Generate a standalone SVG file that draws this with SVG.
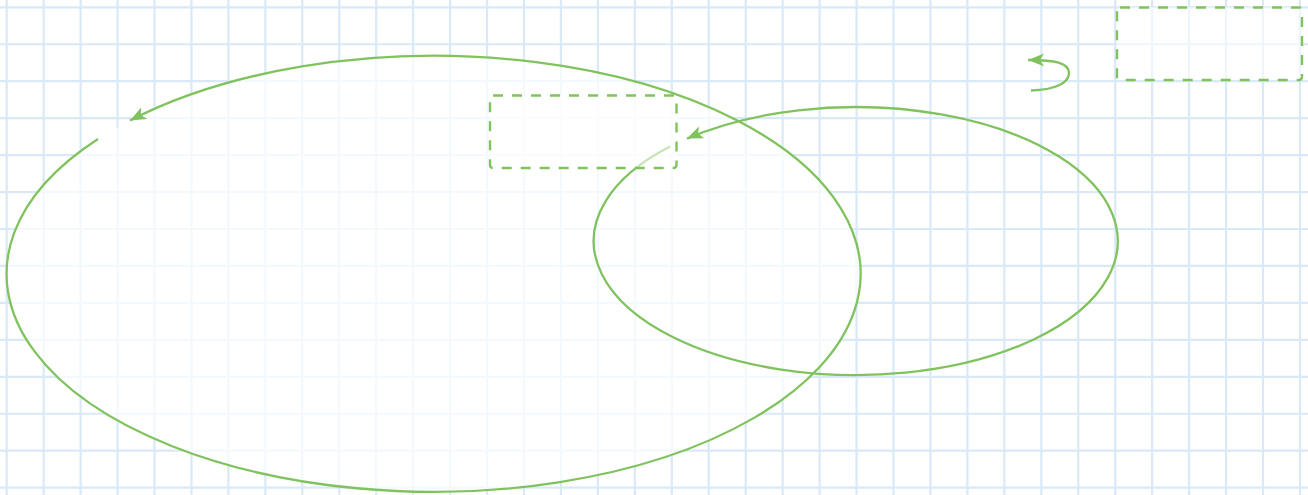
<svg xmlns="http://www.w3.org/2000/svg" width="1308" height="495" viewBox="0 0 1308 495">
  <style>
    .grid { fill: none; stroke: #d9e9f7; stroke-width: 2.2; }
    .conn { fill: none; stroke: #80c35e; stroke-width: 2.3; }
    .box { fill: #ffffff; fill-opacity: 0.55; stroke: #80c35e; stroke-width: 2.4; stroke-dasharray: 10 9; }
  </style>
  <defs>
    <marker id="arrow" viewBox="0 0 16 13" refX="16" refY="6.5" markerWidth="16" markerHeight="13" markerUnits="userSpaceOnUse" orient="auto">
      <path d="M0,0 L16,6.5 L0,13 L4,6.5 Z" fill="#80c35e"/>
    </marker>
  </defs>
  <rect x="0" y="0" width="1308" height="495" fill="#ffffff"/>
  <g id="grid">
    <path class="grid" d="M6.7,0V495 M43.65,0V495 M80.6,0V495 M117.55,0V495 M154.5,0V495 M191.45,0V495 M228.4,0V495 M265.35,0V495 M302.3,0V495 M339.25,0V495 M376.2,0V495 M413.15,0V495 M450.1,0V495 M487.05,0V495 M524,0V495 M560.95,0V495 M597.9,0V495 M634.85,0V495 M671.8,0V495 M708.75,0V495 M745.7,0V495 M782.65,0V495 M819.6,0V495 M856.55,0V495 M893.5,0V495 M930.45,0V495 M967.4,0V495 M1004.35,0V495 M1041.3,0V495 M1078.25,0V495 M1115.2,0V495 M1152.15,0V495 M1189.1,0V495 M1226.05,0V495 M1263,0V495 M1299.95,0V495 M0,7.3H1308 M0,44.25H1308 M0,81.2H1308 M0,118.15H1308 M0,155.1H1308 M0,192.05H1308 M0,229H1308 M0,265.95H1308 M0,302.9H1308 M0,339.85H1308 M0,376.8H1308 M0,413.75H1308 M0,450.7H1308 M0,487.65H1308"/>
  </g>
  <g id="connectors">
    <path id="cycle-large" class="conn" d="M98,139 A427,218 0 1 0 130,120.5" style="fill:#ffffff;fill-opacity:0.7" marker-end="url(#arrow)"/>
    <path id="cycle-small" class="conn" d="M670,146.6 A262,134 0 1 0 687,138.6" marker-end="url(#arrow)"/>
    <path id="self-loop" class="conn" d="M1031,90.5 C1055,90 1069,83 1069,73 C1069,63 1055,59.8 1028,60" marker-end="url(#arrow)"/>
  </g>
  <g id="node-1">
    <rect class="box" x="490" y="95.5" width="186.5" height="72.5" rx="3"/>
  </g>
  <g id="node-2">
    <rect class="box" x="1117" y="7.5" width="185" height="72.5" rx="3"/>
  </g>
</svg>
